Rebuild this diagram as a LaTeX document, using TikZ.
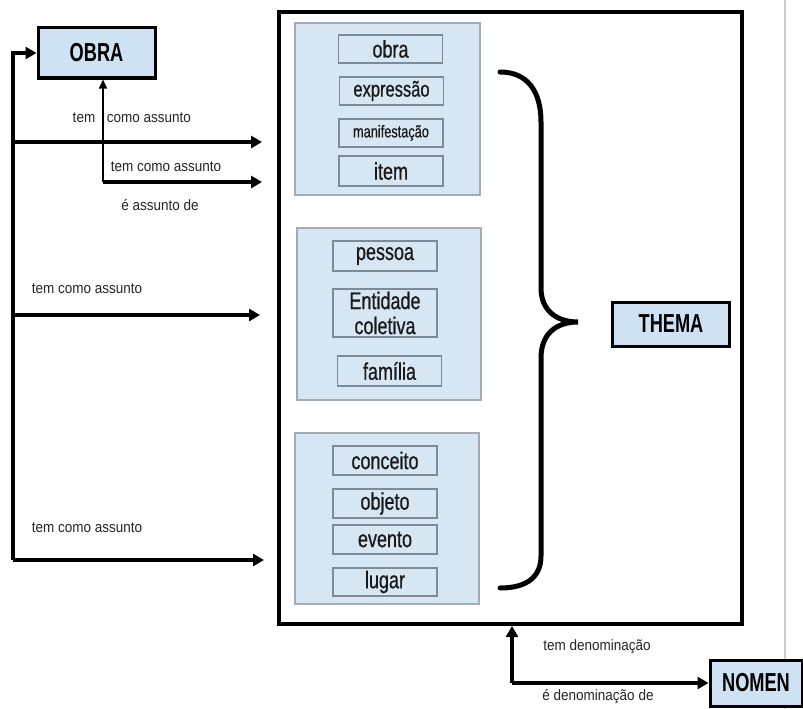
\documentclass[tikz,border=0pt]{standalone}
\usepackage{fontspec}
\setmainfont[FakeStretch=0.82]{Liberation Sans}
\newfontfamily\lblfont[FakeStretch=0.9]{Liberation Sans}
\newfontfamily\boxfont[FakeStretch=0.75,FakeBold=0.6]{Liberation Sans}
\newfontfamily\keyfont[FakeStretch=0.7]{Liberation Sans}
\usetikzlibrary{arrows.meta,calc}
\definecolor{panelfill}{HTML}{D6E6F3}
\definecolor{panelline}{HTML}{A3ABB3}
\definecolor{boxline}{HTML}{7E8A96}
\definecolor{keyfill}{HTML}{CFE2F3}
\begin{document}
\begin{tikzpicture}[x=1pt,y=-1pt,
  panel/.style={draw=panelline,fill=panelfill,line width=1.2pt,inner sep=0pt},
  ibox/.style={draw=boxline,fill=panelfill,line width=1.2pt,minimum width=104pt,inner sep=0pt,text=black!90,font=\boxfont\fontsize{24}{25}\selectfont},
  key/.style={draw=black,fill=keyfill,line width=3pt,inner sep=0pt,font=\keyfont\bfseries\fontsize{26}{28}\selectfont},
  lbl/.style={font=\lblfont\fontsize{15}{16}\selectfont,inner sep=0pt,text=black!85},
  arr/.style={line width=3.5pt,-{Triangle[length=11pt,width=12pt]}},
  thinarr/.style={line width=1.5pt,-{Triangle[length=9pt,width=8pt]}},
  brace/.style={line width=5pt,line cap=round}
]
\useasboundingbox (0,0) rectangle (803,709);
\fill[white] (0,0) rectangle (803,709);
% light gray separator
\draw[black!20,line width=1.5pt] (785,0) -- (785,709);

% big container
\node[draw,line width=4pt,minimum width=463pt,minimum height=612pt,inner sep=0pt] (big) at (510.5,318) {};

% panels
\node[panel,minimum width=185pt,minimum height=172pt] (p1) at (387.5,109) {};
\node[panel,minimum width=184pt,minimum height=172pt] (p2) at (389,314) {};
\node[panel,minimum width=184pt,minimum height=171pt] (p3) at (387,518.5) {};

% inner boxes
\node[ibox,minimum height=28pt] (obra) at (390.5,49) {obra};
\node[ibox,minimum height=28pt,font=\boxfont\fontsize{22}{23}\selectfont] (expr) at (391.5,91) {expressão};
\node[ibox,minimum height=28pt,font=\boxfont\fontsize{17}{18}\selectfont] (manif) at (391,133) {manifestação};
\node[ibox,minimum height=30pt] (item) at (391,171) {item};

\node[ibox,minimum height=30pt] (pessoa) at (385,256) {pessoa};
\node[ibox,minimum height=48pt,align=center] (ent) at (385,313) {Entidade\\coletiva};
\node[ibox,minimum height=30pt] (familia) at (389.5,371) {família};

\node[ibox,minimum height=29pt] (conceito) at (385,460.5) {conceito};
\node[ibox,minimum height=29pt] (objeto) at (385,503.5) {objeto};
\node[ibox,minimum height=29pt] (evento) at (385,539.5) {evento};
\node[ibox,minimum height=28pt] (lugar) at (385,582) {lugar};

% brace
\draw[brace] (500,72) .. controls (528,72) and (541,92) .. (541,122) -- (541,288)
  .. controls (541,310) and (556,322) .. (578,322)
  .. controls (556,322) and (541,334) .. (541,358) -- (541,556)
  .. controls (541,576) and (528,588) .. (500,588);

% key nodes
\node[key,minimum width=117pt,minimum height=50pt] (OBRA) at (96.5,53) {OBRA};
\node[key,minimum width=117pt,minimum height=44pt] (THEMA) at (671,324) {THEMA};
\node[key,minimum width=92pt,minimum height=46pt] (NOMEN) at (756,683) {NOMEN};

% left connectors
\coordinate (lb) at (13,560);
\coordinate (a1) at (262,142);
\coordinate (a2) at (260,315);
\coordinate (a3) at (264,560);
\draw[arr] (lb) -- (lb |- OBRA.west) -- (OBRA.west);
\draw[arr] (13,142) -- (a1);
\draw[arr] (13,315) -- (a2);
\draw[arr] (lb) -- (a3);

\coordinate (c1) at (103,182);
\coordinate (a4) at (262,182);
\draw[thinarr] (c1) -- (c1 |- OBRA.south);
\draw[arr] (c1) -- (a4);

% bottom connectors
\coordinate (c2) at (512,683);
\draw[arr] (c2) -- (c2 |- big.south);
\draw[arr] (c2) -- (NOMEN.west);

% labels
\node[lbl] at (84,118) {tem};
\node[lbl] at (149,118) {como assunto};
\node[lbl] at (166,167) {tem como assunto};
\node[lbl] at (160,205) {é assunto de};
\node[lbl] at (87,289) {tem como assunto};
\node[lbl] at (87,528) {tem como assunto};
\node[lbl] at (597,647) {tem denominação};
\node[lbl] at (598,697) {é denominação de};
\end{tikzpicture}
\end{document}
